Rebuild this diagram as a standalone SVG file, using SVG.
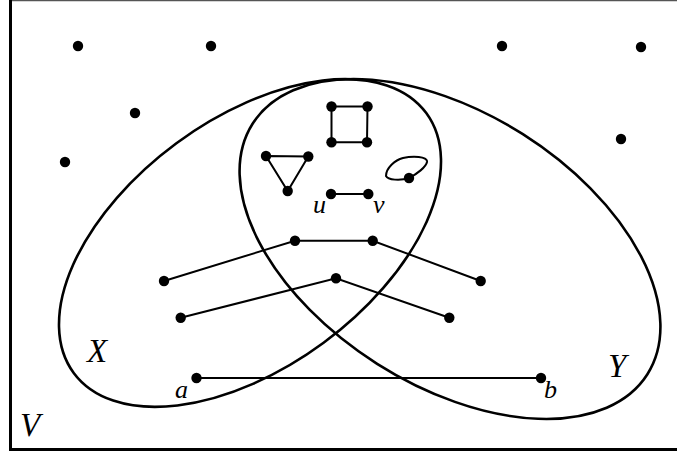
<svg xmlns="http://www.w3.org/2000/svg" width="677" height="456" viewBox="0 0 677 456">
<style>
.set{fill:none;stroke:#000;stroke-width:2.6}
.e{stroke:#000;stroke-width:2;fill:none}
.d{fill:#000}
.lbl{font-family:"Liberation Serif","Times New Roman",serif;font-style:italic;fill:#000}
.cap{font-size:33px}
.low{font-size:26px}
</style>
<rect x="0" y="0" width="677" height="456" fill="#fff"/>
<g id="frame">
<line x1="9" y1="0.5" x2="677" y2="0.5" stroke="#555" stroke-width="1.5"/>
<line x1="10.5" y1="0" x2="10.5" y2="451" stroke="#000" stroke-width="3"/>
<line x1="9" y1="449.5" x2="677" y2="449.5" stroke="#000" stroke-width="3"/>
<text class="lbl cap" x="20" y="436">V</text>
</g>
<g id="setX">
<ellipse class="set" cx="250" cy="243" rx="219" ry="124" transform="rotate(-36.4 250 243)"/>
<text class="lbl cap" x="87" y="362">X</text>
</g>
<g id="setY">
<ellipse class="set" cx="450" cy="249" rx="233.8" ry="136" transform="rotate(32.4 450 249)"/>
<text class="lbl cap" x="608" y="377">Y</text>
</g>
<g id="connectors">
<polygon class="e" points="331.5,106.5 367.5,106.5 367,142.3 331.5,142.3"/>
<polygon class="e" points="266,156 308.3,156.5 287.7,191"/>
<path class="e" d="M409,178 C400,181 388,180 386,176 C386,168 395,160 403,158 C412,156 428,156 427,162 C426,167 417,174 409,178 Z"/>
<line class="e" x1="331" y1="194" x2="368.3" y2="194"/>
<polyline class="e" points="164,281 295,240.7 372.7,240.7 480.7,281"/>
<polyline class="e" points="180.7,317.7 336,278.3 449.3,317.7"/>
<line class="e" x1="196.5" y1="378" x2="541" y2="378"/>
</g>
<g id="isolated">
<circle class="d" cx="78" cy="46" r="5.2"/>
<circle class="d" cx="211" cy="46" r="5.2"/>
<circle class="d" cx="502" cy="46" r="5.2"/>
<circle class="d" cx="641" cy="47" r="5.2"/>
<circle class="d" cx="135" cy="113" r="5.2"/>
<circle class="d" cx="65" cy="162" r="5.2"/>
<circle class="d" cx="621" cy="139" r="5.2"/>
</g>
<g id="square">
<circle class="d" cx="331.5" cy="106.5" r="5.2"/>
<circle class="d" cx="367.5" cy="106.5" r="5.2"/>
<circle class="d" cx="331.5" cy="142.3" r="5.2"/>
<circle class="d" cx="367" cy="142.3" r="5.2"/>
</g>
<g id="triangle">
<circle class="d" cx="266" cy="156" r="5.2"/>
<circle class="d" cx="308.3" cy="156.5" r="5.2"/>
<circle class="d" cx="287.7" cy="191" r="5.2"/>
</g>
<g id="loop">
<circle class="d" cx="409" cy="178" r="5.2"/>
</g>
<g id="node-u">
<circle class="d" cx="331" cy="194" r="5.2"/>
<text class="lbl low" x="313" y="213">u</text>
</g>
<g id="node-v">
<circle class="d" cx="368.3" cy="194" r="5.2"/>
<text class="lbl low" x="373" y="213">v</text>
</g>
<g id="paths">
<circle class="d" cx="295" cy="240.7" r="5.2"/>
<circle class="d" cx="372.7" cy="240.7" r="5.2"/>
<circle class="d" cx="164" cy="281" r="5.2"/>
<circle class="d" cx="480.7" cy="281" r="5.2"/>
<circle class="d" cx="336" cy="278.3" r="5.2"/>
<circle class="d" cx="180.7" cy="317.7" r="5.2"/>
<circle class="d" cx="449.3" cy="317.7" r="5.2"/>
</g>
<g id="node-a">
<circle class="d" cx="196.5" cy="378" r="5.2"/>
<text class="lbl low" x="175" y="398">a</text>
</g>
<g id="node-b">
<circle class="d" cx="541" cy="378" r="5.2"/>
<text class="lbl low" x="544" y="398">b</text>
</g>
</svg>
